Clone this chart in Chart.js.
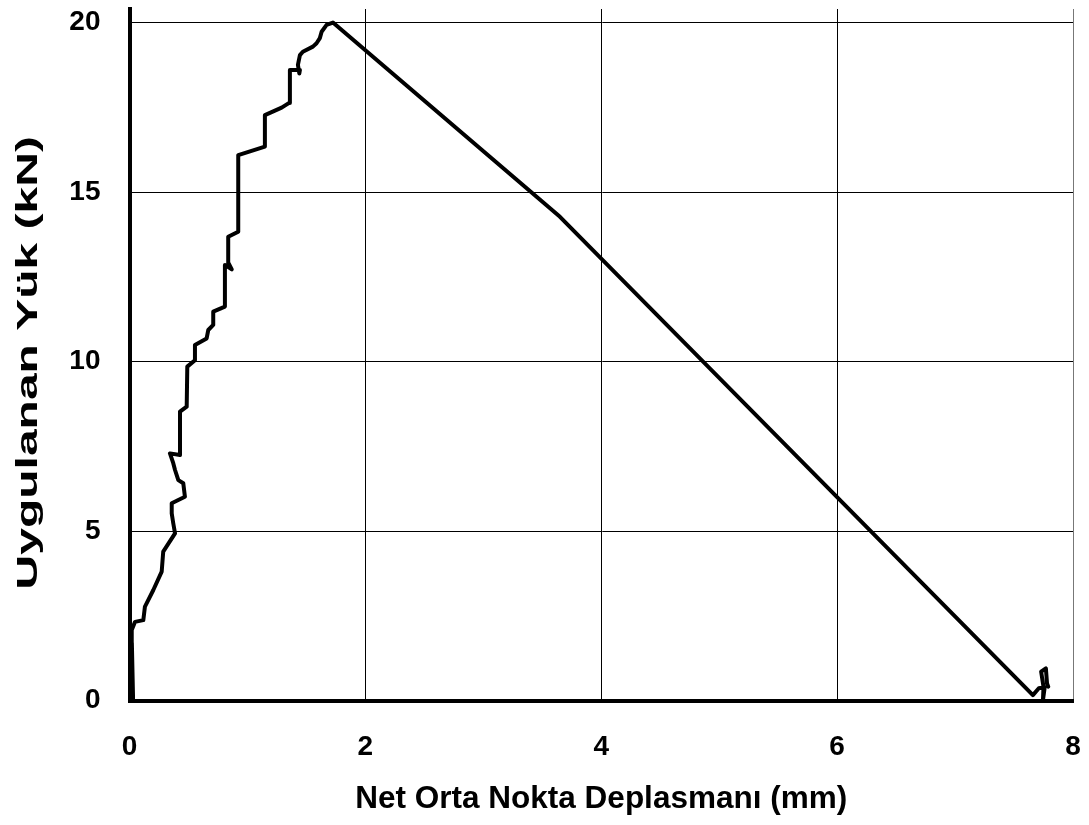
<!DOCTYPE html>
<html>
<head>
<meta charset="utf-8">
<title>Yük - Deplasman</title>
<script src="https://cdn.jsdelivr.net/npm/chart.js@4.4.1/dist/chart.umd.min.js"></script>
<style>
  html, body { margin: 0; padding: 0; background: #fff; }
  #wrap { width: 1089px; height: 825px; }
</style>
</head>
<body>
<div id="wrap"><canvas id="loadChart" width="1089" height="825"></canvas></div>
<script>
// Net mid-point displacement (mm) and applied load (kN), in test order
const displacement = [
  0.00, 0.03, 0.01, 0.03, 0.02, 0.019, 0.047, 0.117, 0.131, 0.202,
  0.273, 0.286, 0.386, 0.371, 0.358, 0.358, 0.470, 0.456, 0.414, 0.386,
  0.371, 0.343, 0.428, 0.428, 0.485, 0.490, 0.555, 0.555, 0.654, 0.668,
  0.710, 0.710, 0.809, 0.809, 0.867, 0.840, 0.837, 0.922, 0.922, 1.148,
  1.148, 1.290, 1.354, 1.360, 1.445, 1.440, 1.428, 1.445, 1.470, 1.555,
  1.586, 1.614, 1.629, 1.671, 1.725, 3.650, 7.660, 7.710, 7.760, 7.745,
  7.750, 7.730, 7.770, 7.780, 7.790
];
const load = [
  0.00, 0.05, 1.55, 0.10, 1.70, 2.08, 2.32, 2.37, 2.77, 3.26,
  3.80, 4.39, 4.93, 5.23, 5.52, 5.82, 6.01, 6.41, 6.50, 6.80,
  7.00, 7.29, 7.24, 8.52, 8.67, 9.85, 10.04, 10.49, 10.68, 10.93,
  11.08, 11.47, 11.62, 12.85, 12.72, 12.90, 13.68, 13.83, 16.09, 16.34,
  17.27, 17.49, 17.63, 18.60, 18.60, 18.50, 18.75, 19.04, 19.14, 19.29,
  19.39, 19.54, 19.73, 19.93, 20.00, 14.27, 0.16, 0.36, 0.39, 0.00,
  0.40, 0.85, 0.95, 0.50, 0.41
];

const xTicks = [0, 2, 4, 6, 8];
const yTicks = [0, 5, 10, 15, 20];

const points = displacement.map((x, i) => ({ x: x, y: load[i] }));

const tickFont = { family: "'Liberation Sans', Arial, sans-serif", size: 28, weight: "bold" };
const xTitleFont = { family: "'Liberation Sans', Arial, sans-serif", size: 31.5, weight: "bold" };
const yTitleFont = { family: "'Liberation Sans', Arial, sans-serif", size: 30, weight: "bold" };

// the load caption is drawn stretched along its length
const stretchYTitle = {
  id: "stretchYTitle",
  beforeDraw(chart) {
    const scale = chart.scales.y;
    if (scale._stretched) return;
    const drawTitle = scale.drawTitle.bind(scale);
    scale.drawTitle = () => {
      const ctx = chart.ctx;
      const mid = (scale.top + scale.bottom) / 2;
      ctx.save();
      ctx.translate(0, mid + 8);
      ctx.scale(1, 1.6);
      ctx.translate(0, -mid);
      drawTitle();
      ctx.restore();
    };
    scale._stretched = true;
  },
};

new Chart(document.getElementById("loadChart"), {
  type: "scatter",
  data: {
    datasets: [
      {
        data: points,
        showLine: true,
        borderColor: "#000",
        borderWidth: 4,
        borderJoinStyle: "round",
        borderCapStyle: "round",
        pointRadius: 0,
        tension: 0,
        fill: false,
      },
    ],
  },
  plugins: [stretchYTitle],
  options: {
    responsive: false,
    animation: false,
    layout: { padding: { top: 9, right: 16, left: 0, bottom: 0 } },
    plugins: {
      legend: { display: false },
      tooltip: { enabled: false },
    },
    scales: {
      x: {
        type: "linear",
        min: 0,
        max: 8,
        afterBuildTicks: (scale) => {
          scale.ticks = xTicks.map((v) => ({ value: v }));
        },
        afterFit: (scale) => {
          scale.height = 124.5;
          // no extra room for the end labels, keep the plot edges fixed
          scale.paddingLeft = 0;
          scale.paddingRight = 0;
        },
        grid: {
          color: (ctx) => (ctx.tick && ctx.tick.value === 8 ? "#777" : "#000"),
          lineWidth: 1,
          drawTicks: false,
        },
        border: { display: true, color: "#000", width: 4 },
        ticks: { color: "#000", font: tickFont, padding: 30, maxRotation: 0 },
        title: {
          display: true,
          text: "Net Orta Nokta Deplasmanı (mm)",
          color: "#000",
          font: xTitleFont,
          padding: { top: 0, bottom: 7 },
        },
      },
      y: {
        type: "linear",
        min: 0,
        max: 20.4,
        afterBuildTicks: (scale) => {
          scale.ticks = yTicks.map((v) => ({ value: v }));
        },
        afterFit: (scale) => {
          scale.width = 129.5;
          scale.paddingTop = 0;
          scale.paddingBottom = 0;
        },
        grid: { color: "#000", lineWidth: 1, drawTicks: false },
        border: { display: true, color: "#000", width: 4 },
        ticks: { color: "#000", font: tickFont, padding: 29 },
        title: {
          display: true,
          text: "Uygulanan Yük (kN)",
          color: "#000",
          font: yTitleFont,
          padding: { top: 11, bottom: 0 },
        },
      },
    },
  },
});
</script>
</body>
</html>
